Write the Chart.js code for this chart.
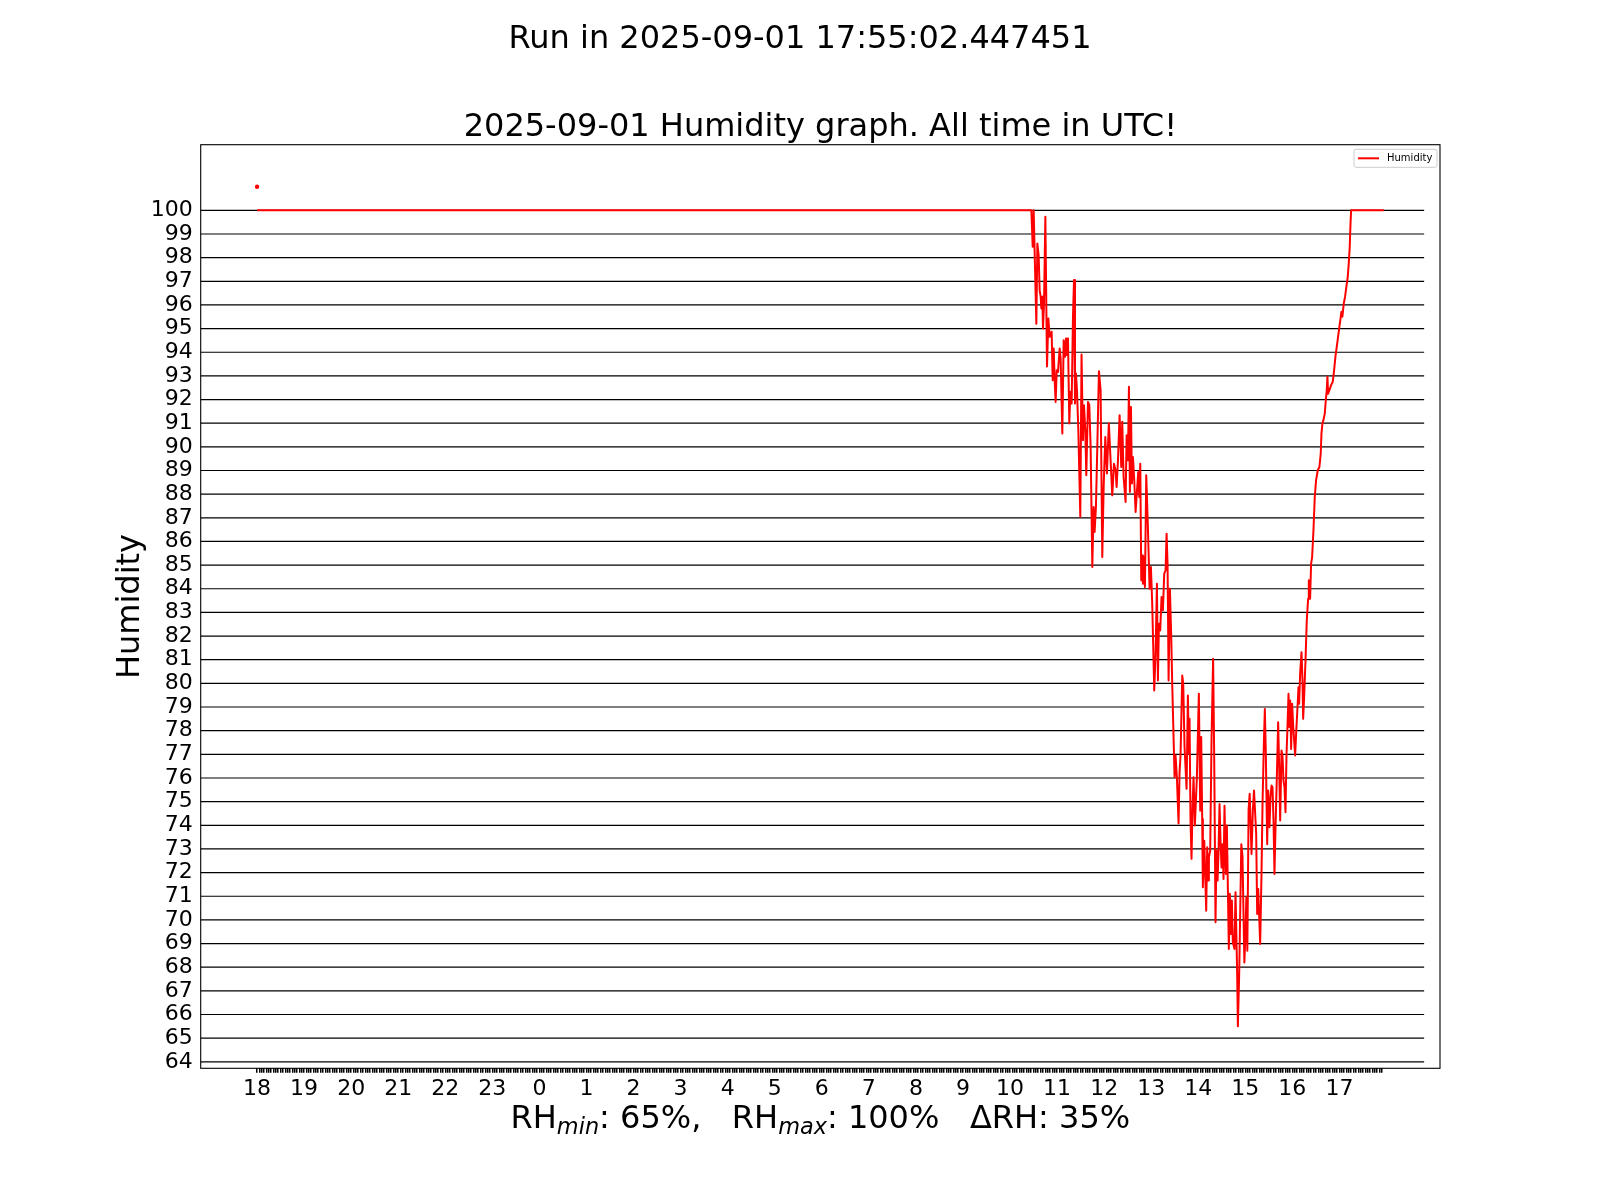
<!DOCTYPE html>
<html>
<head>
<meta charset="utf-8">
<title>Humidity</title>
<script src="https://cdn.jsdelivr.net/npm/chart.js@4.4.1/dist/chart.umd.min.js"></script>
<style>
  html, body { margin: 0; padding: 0; background: #fff; }
  #wrap { width: 1600px; height: 1200px; }
</style>
</head>
<body>
<div id="wrap"><canvas id="rh" width="1600" height="1200"></canvas></div>
<script>
// ── DATA ──────────────────────────────────────────────────────────
const RUN_STAMP = "2025-09-01 17:55:02.447451";
const DAY = "2025-09-01";

// hours since 18:00 UTC of the previous day
const hours = [
  0, 16.454, 16.482, 16.503, 16.531, 16.560, 16.581, 16.609, 16.630, 16.652,
  16.666, 16.687, 16.701, 16.723, 16.751, 16.786, 16.815, 16.843, 16.885, 16.907,
  16.928, 16.949, 16.970, 16.992, 17.020, 17.055, 17.076, 17.112, 17.140, 17.168,
  17.190, 17.211, 17.232, 17.260, 17.282, 17.310, 17.338, 17.360, 17.381, 17.402,
  17.423, 17.452, 17.494, 17.520, 17.550, 17.572, 17.600, 17.621, 17.657, 17.685,
  17.713, 17.749, 17.777, 17.798, 17.826, 17.855, 17.890, 17.925, 17.961, 17.990,
  18.025, 18.060, 18.100, 18.173, 18.209, 18.244, 18.265, 18.294, 18.329, 18.364,
  18.385, 18.414, 18.456, 18.478, 18.506, 18.527, 18.548, 18.570, 18.591, 18.612,
  18.640, 18.669, 18.725, 18.746, 18.768, 18.789, 18.810, 18.824, 18.846, 18.867,
  18.895, 18.930, 18.966, 18.994, 19.022, 19.065, 19.093, 19.122, 19.143, 19.164,
  19.192, 19.220, 19.249, 19.277, 19.306, 19.327, 19.348, 19.370, 19.398, 19.426,
  19.447, 19.461, 19.497, 19.518, 19.546, 19.582, 19.603, 19.624, 19.660, 19.681,
  19.709, 19.752, 19.780, 19.801, 19.815, 19.836, 19.857, 19.879, 19.900, 19.928,
  19.971, 20.013, 20.042, 20.063, 20.084, 20.098, 20.127, 20.148, 20.169, 20.190,
  20.212, 20.226, 20.254, 20.282, 20.316, 20.339, 20.367, 20.388, 20.410, 20.431,
  20.452, 20.473, 20.495, 20.516, 20.537, 20.558, 20.587, 20.608, 20.650, 20.671,
  20.693, 20.714, 20.735, 20.770, 20.792, 20.827, 20.842, 20.870, 20.915, 20.940,
  20.980, 21.005, 21.022, 21.043, 21.070, 21.093, 21.132, 21.160, 21.185, 21.231,
  21.252, 21.274, 21.295, 21.316, 21.344, 21.366, 21.394, 21.415, 21.436, 21.465,
  21.486, 21.514, 21.535, 21.557, 21.578, 21.599, 21.620, 21.642, 21.670, 21.698,
  21.719, 21.741, 21.769, 21.790, 21.811, 21.833, 21.854, 21.875, 21.896, 21.918,
  21.939, 21.953, 21.974, 21.995, 22.017, 22.038, 22.059, 22.080, 22.109, 22.130,
  22.144, 22.165, 22.194, 22.215, 22.229, 22.250, 22.279, 22.306, 22.335, 22.349,
  22.377, 22.398, 22.420, 22.448, 22.476, 22.504, 22.540, 22.575, 22.603, 22.618,
  22.639, 22.660, 22.689, 22.710, 22.731, 22.745, 22.759, 22.788, 22.823, 22.858,
  22.887, 22.915, 22.943, 22.971, 23.000, 23.028, 23.042, 23.063, 23.092, 23.120,
  23.148, 23.177, 23.198, 23.219, 23.233, 23.248, 23.940
];

const humidity = [
  100, 100, 98.46, 100, 97.6, 95.2, 98.6, 98.1, 96.6, 96.35,
  95.85, 96.35, 95.0, 96.06, 99.73, 93.4, 95.43, 94.65, 94.87, 92.82,
  94.16, 92.82, 91.9, 93.24, 93.17, 94.16, 93.74, 90.56, 94.51, 93.81,
  94.58, 93.88, 94.58, 90.99, 92.33, 91.83, 95.5, 97.05, 91.83, 93.1,
  92.4, 90.7, 87.04, 93.9, 90.28, 91.76, 90.7, 88.8, 91.9, 91.76,
  90.0, 84.92, 87.46, 86.4, 87.46, 90.0, 93.2, 92.4, 85.34, 88.3,
  90.42, 88.87, 91.0, 87.95, 89.29, 89.0, 88.3, 89.43, 91.34, 89.15,
  91.06, 88.73, 87.67, 90.49, 89.43, 92.54, 88.09, 91.69, 88.45, 89.57,
  88.59, 87.25, 88.94, 87.88, 89.29, 84.36, 85.41, 84.21, 85.34, 84.07,
  88.8, 86.61, 84.0, 84.92, 83.37, 79.7, 81.25, 84.21, 80.12, 82.52,
  82.24, 83.65, 83.09, 84.64, 84.78, 86.33, 85.06, 80.12, 84.0, 81.96,
  79.98, 79.98, 76.03, 76.95, 76.03, 74.08, 76.25, 76.95, 80.33, 79.98,
  77.3, 75.54, 79.49, 77.02, 78.5, 74.2, 72.58, 74.76, 76.03, 73.99,
  76.03, 79.56, 74.62, 77.73, 74.27, 71.38, 73.35, 71.94, 70.39, 73.07,
  71.66, 72.65, 72.93, 77.58, 81.04, 76.88, 69.9, 72.93, 71.66, 72.86,
  74.9, 73.35, 72.22, 73.2, 71.73, 74.83, 71.94, 73.99, 68.77, 71.1,
  69.4, 70.82, 69.05, 68.77, 71.17, 67.71, 65.5, 67.71, 73.2, 72.7,
  68.2, 69.5, 70.95, 68.7, 74.69, 75.33, 72.79, 74.62, 75.47, 73.64,
  70.25, 71.31, 70.18, 68.98, 71.94, 74.9, 77.44, 78.92, 77.02, 73.2,
  75.47, 73.92, 75.19, 75.68, 75.61, 74.2, 71.94, 73.92, 76.03, 78.36,
  76.46, 74.2, 77.16, 76.95, 75.89, 75.61, 74.55, 76.95, 78.15, 79.56,
  78.15, 79.28, 77.23, 79.14, 78.22, 77.58, 76.95, 77.87, 78.99, 79.84,
  79.14, 80.41, 81.32, 80.12, 78.5, 79.42, 80.97, 82.66, 83.58, 84.36,
  83.58, 85.06, 85.34, 86.47, 87.88, 88.59, 89.01, 89.15, 89.72, 90.56,
  90.99, 91.13, 91.41, 91.97, 92.4, 92.96, 92.25, 92.4, 92.61, 92.75,
  93.24, 93.81, 94.23, 94.65, 95.08, 95.5, 95.71, 95.5, 96.06, 96.35,
  96.77, 97.19, 97.76, 98.46, 99.31, 100, 100
];

// the lone dot drawn above the flat line at the start
const dotHours = [0];
const dotValues = [101];

const hourLabels = ["18","19","20","21","22","23","0","1","2","3","4","5",
                    "6","7","8","9","10","11","12","13","14","15","16","17"];
const yTicks = [64,65,66,67,68,69,70,71,72,73,74,75,76,77,78,79,80,81,82,
                83,84,85,86,87,88,89,90,91,92,93,94,95,96,97,98,99,100];

// ── LAYOUT ────────────────────────────────────────────────────────
const W = 1600, H = 1200;
const AX = { left: 200.7, top: 144.7, right: 1440, bottom: 1068.3 };
const FONT = '"DejaVu Sans", "Liberation Sans", sans-serif';
const TICK_STEP_H = 0.05;   // a tick every 3 minutes
const GRID_END_H = 24.8;    // horizontal lines stop short of the right spine

// matplotlib-like 5% autoscale margins
const allY = humidity.concat(dotValues);
const yLo = Math.min(...allY), yHi = Math.max(...allY);
const yPad = (yHi - yLo) * 0.05;
const xLast = hours[hours.length - 1];
const xPad = xLast * 0.05;

const rhMin = Math.floor(Math.min(...humidity));
const rhMax = Math.round(Math.max(...humidity));

// ── DECOR PLUGIN (grid, frame, legend, titles) ────────────────────
const decor = {
  id: "decor",
  beforeDatasetsDraw(chart) {
    const { ctx, chartArea: ca, scales: { x, y } } = chart;
    ctx.save();
    ctx.strokeStyle = "#000";
    ctx.lineWidth = 1.2;
    const xEnd = x.getPixelForValue(GRID_END_H);
    yTicks.forEach(v => {
      const py = y.getPixelForValue(v);
      ctx.beginPath(); ctx.moveTo(ca.left, py); ctx.lineTo(xEnd, py); ctx.stroke();
    });
    ctx.restore();
  },
  afterDraw(chart) {
    const { ctx, chartArea: ca } = chart;
    ctx.save();

    // frame
    ctx.strokeStyle = "#000";
    ctx.lineWidth = 1.1;
    ctx.strokeRect(ca.left, ca.top, ca.right - ca.left, ca.bottom - ca.top);

    // legend
    const lx = ca.right - 86, ly = ca.top + 4.6, lw = 83, lh = 18;
    ctx.fillStyle = "rgba(255,255,255,0.8)";
    ctx.strokeStyle = "#cccccc";
    ctx.lineWidth = 1;
    ctx.beginPath();
    ctx.roundRect(lx, ly, lw, lh, 2);
    ctx.fill(); ctx.stroke();
    ctx.strokeStyle = "#ff0000";
    ctx.lineWidth = 2;
    ctx.beginPath(); ctx.moveTo(lx + 4, ly + lh / 2); ctx.lineTo(lx + 25, ly + lh / 2); ctx.stroke();
    ctx.fillStyle = "#000";
    ctx.font = "10px " + FONT;
    ctx.textAlign = "left";
    ctx.textBaseline = "middle";
    ctx.fillText("Humidity", lx + 33, ly + lh / 2 + 0.5);

    // titles
    ctx.textAlign = "center";
    ctx.textBaseline = "alphabetic";
    ctx.font = "32px " + FONT;
    ctx.fillText("Run in " + RUN_STAMP, W / 2, 48);
    ctx.fillText(DAY + " Humidity graph. All time in UTC!", (ca.left + ca.right) / 2, 136);

    // x label with subscripts
    const parts = [
      { t: "RH" }, { t: "min", sub: true },
      { t: ": " + rhMin + "%,   RH" }, { t: "max", sub: true },
      { t: ": " + rhMax + "%   \u0394RH: " + (rhMax - rhMin) + "%" }
    ];
    const fontOf = p => p.sub ? "oblique 22.4px " + FONT : "32px " + FONT;
    let total = 0;
    parts.forEach(p => { ctx.font = fontOf(p); p.w = ctx.measureText(p.t).width; total += p.w; });
    let cx = (ca.left + ca.right) / 2 - total / 2;
    ctx.textAlign = "left";
    parts.forEach(p => {
      ctx.font = fontOf(p);
      ctx.fillText(p.t, cx, 1128 + (p.sub ? 6 : 0));
      cx += p.w;
    });

    // y label
    ctx.translate(131, (ca.top + ca.bottom) / 2);
    ctx.rotate(-Math.PI / 2);
    ctx.font = "32px " + FONT;
    ctx.textAlign = "center";
    ctx.textBaseline = "middle";
    ctx.fillText("Humidity", 0, 0);

    ctx.restore();
  }
};

// ── CHART ─────────────────────────────────────────────────────────
new Chart(document.getElementById("rh"), {
  type: "line",
  data: {
    datasets: [
      {
        label: "Humidity",
        data: hours.map((h, i) => ({ x: h, y: humidity[i] })),
        borderColor: "#ff0000",
        borderWidth: 2,
        borderJoinStyle: "round",
        pointRadius: 0,
        tension: 0,
        fill: false
      },
      {
        label: "dot",
        data: dotHours.map((h, i) => ({ x: h, y: dotValues[i] })),
        showLine: false,
        pointRadius: 2.2,
        pointBackgroundColor: "#ff0000",
        pointBorderWidth: 0
      }
    ]
  },
  options: {
    responsive: false,
    animation: false,
    devicePixelRatio: 1,
    layout: { padding: { left: 0, top: AX.top, right: W - AX.right, bottom: 0 } },
    plugins: { legend: { display: false }, title: { display: false }, tooltip: { enabled: false } },
    scales: {
      x: {
        type: "linear",
        bounds: "data",
        min: -xPad, max: xLast + xPad,
        afterFit: s => { s.height = H - AX.bottom; },
        afterBuildTicks: s => {
          const t = [];
          for (let i = 0; i * TICK_STEP_H <= xLast + 1e-9; i++) t.push({ value: +(i * TICK_STEP_H).toFixed(4) });
          s.ticks = t;
        },
        grid: { display: true, drawOnChartArea: false, drawTicks: true, tickLength: 4.5, tickColor: "#000", lineWidth: 1.5 },
        border: { display: false },
        ticks: {
          autoSkip: false, maxRotation: 0, minRotation: 0, padding: 3,
          color: "#000", font: { family: FONT, size: 22 },
          callback: v => {
            const r = Math.round(v);
            return Math.abs(v - r) < 1e-6 && hourLabels[r] !== undefined ? hourLabels[r] : "";
          }
        }
      },
      y: {
        type: "linear",
        bounds: "data",
        min: yLo - yPad, max: yHi + yPad,
        afterFit: s => { s.width = AX.left; },
        afterBuildTicks: s => { s.ticks = yTicks.map(v => ({ value: v })); },
        grid: { display: false, drawTicks: false },
        border: { display: false },
        ticks: {
          autoSkip: false, padding: 8, color: "#000",
          font: { family: FONT, size: 22 }, callback: v => String(v)
        }
      }
    }
  },
  plugins: [decor]
});
</script>
</body>
</html>
